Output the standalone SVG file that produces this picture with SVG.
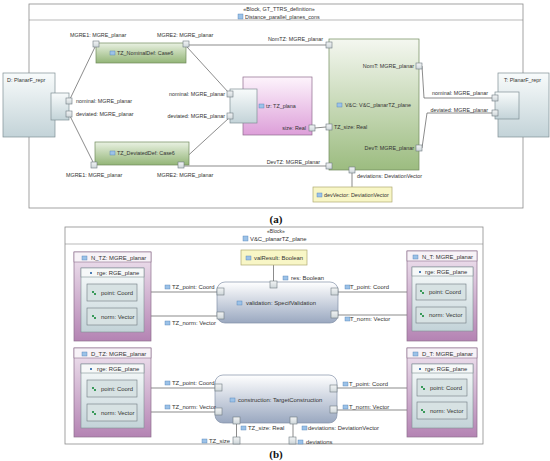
<svg xmlns="http://www.w3.org/2000/svg" width="550" height="461" viewBox="0 0 550 461">
<defs>
<linearGradient id="gGray" x1="0" y1="0" x2="0" y2="1"><stop offset="0" stop-color="#f8fbfb"/><stop offset="1" stop-color="#c3d3d8"/></linearGradient>
<linearGradient id="gGreen" x1="0" y1="0" x2="0" y2="1"><stop offset="0" stop-color="#e9f1e2"/><stop offset="1" stop-color="#93b577"/></linearGradient>
<linearGradient id="gVC" x1="0" y1="0" x2="0" y2="1"><stop offset="0" stop-color="#f4f7f0"/><stop offset="1" stop-color="#9cbc80"/></linearGradient>
<linearGradient id="gTz" x1="0" y1="0" x2="0" y2="1"><stop offset="0" stop-color="#fdf4fc"/><stop offset="1" stop-color="#dd9fd9"/></linearGradient>
<linearGradient id="gPur" x1="0" y1="0" x2="0" y2="1"><stop offset="0" stop-color="#efe4ef"/><stop offset="1" stop-color="#b483b3"/></linearGradient>
<linearGradient id="gOp" x1="0" y1="0" x2="0" y2="1"><stop offset="0" stop-color="#ffffff"/><stop offset="1" stop-color="#9aa8c0"/></linearGradient>
<linearGradient id="gPort" x1="0" y1="0" x2="0" y2="1"><stop offset="0" stop-color="#f2f4f5"/><stop offset="1" stop-color="#cfd7da"/></linearGradient>
</defs>
<style>
text{font-family:"Liberation Sans",Arial,sans-serif;fill:#333}
.a{font-size:5.4px}
.b{font-size:5.9px}
.mid{text-anchor:middle}
.end{text-anchor:end}
.frame{fill:#fff;stroke:#8c8c8c;stroke-width:0.8}
.gray{fill:url(#gGray);stroke:#7f8f94;stroke-width:0.7}
.green{fill:url(#gGreen);stroke:#6f8a5c;stroke-width:0.7}
.vc{fill:url(#gVC);stroke:#6f8a5c;stroke-width:0.7}
.tz{fill:url(#gTz);stroke:#8e6a8c;stroke-width:0.7}
.yel{fill:#f8f6c6;stroke:#b0aa70;stroke-width:0.7}
.port{fill:url(#gPort);stroke:#6e7a80;stroke-width:0.6}
.pur{fill:url(#gPur);stroke:#8d6f8d;stroke-width:0.7}
.hdr{fill:#f7f2f7;stroke:#8d6f8d;stroke-width:0.6}
.rge{fill:url(#gGray);stroke:#7f8f94;stroke-width:0.6}
.rgeh{fill:#f6f8f8;stroke:#7f8f94;stroke-width:0.6}
.prop{fill:#d7e2e3;stroke:#6e7a80;stroke-width:0.6}
.op{fill:url(#gOp);stroke:#8390a8;stroke-width:0.7}
.ic{fill:#9cc2e8;stroke:#4c7db5;stroke-width:0.4}
.gi{fill:#3a9a5a}
.conn line,.conn polyline{stroke:#5a5a5a;stroke-width:0.7;fill:none}
.lab{font-family:"Liberation Serif","Times New Roman",serif;font-weight:bold;font-size:11px;fill:#111}
</style>

<!-- ===== Part (a) ===== -->
<g id="frameA">
<rect class="frame" x="29" y="4" width="494" height="204"/>
<line x1="29" y1="20" x2="523" y2="20" stroke="#8c8c8c" stroke-width="0.6"/>
<text class="a mid" x="279" y="11">«Block, GT_TTRS_definition»</text>
<rect class="ic" x="238" y="14" width="5" height="5"/>
<text class="a" x="245" y="19">Distance_parallel_planes_cons</text>
</g>

<g class="conn" id="connA">
<line x1="95" y1="47" x2="70" y2="99"/>
<line x1="187" y1="47" x2="229" y2="93"/>
<line x1="189" y1="45" x2="326" y2="45"/>
<line x1="70" y1="116" x2="93" y2="162"/>
<line x1="229" y1="118" x2="181" y2="162"/>
<line x1="183" y1="166" x2="326" y2="166"/>
<line x1="315" y1="128" x2="326" y2="127"/>
<polyline points="422,66 424,98 492,98"/>
<polyline points="422,148 427,113 492,113"/>
<line x1="352" y1="173" x2="352" y2="187"/>
</g>

<g id="D">
<rect class="gray" x="3" y="73" width="52" height="64"/>
<text class="a" x="7" y="82">D: PlanarF_repr</text>
<rect class="gray" x="51" y="93" width="18" height="27"/>
<rect class="port" x="66" y="98" width="6" height="6"/>
<rect class="port" x="66" y="111" width="6" height="6"/>
<text class="a" x="76" y="103">nominal: MGRE_planar</text>
<text class="a" x="76" y="116">deviated: MGRE_planar</text>
</g>

<g id="T">
<rect class="gray" x="498" y="73" width="51" height="64"/>
<text class="a" x="504" y="82">T: PlanarF_repr</text>
<rect class="gray" x="495" y="92" width="24" height="27"/>
<rect class="port" x="492" y="95" width="6" height="6"/>
<rect class="port" x="492" y="110" width="6" height="6"/>
<text class="a end" x="488" y="95">nominal: MGRE_planar</text>
<text class="a end" x="488" y="112">deviated: MGRE_planar</text>
</g>

<g id="TZ_NominalDef">
<rect class="green" x="96" y="43" width="90" height="20"/>
<rect class="ic" x="110" y="51" width="5" height="4"/>
<text class="a" x="117" y="55">TZ_NominalDef: Case6</text>
<rect class="port" x="93" y="41" width="6" height="6"/>
<rect class="port" x="183" y="41" width="6" height="6"/>
<text class="a" x="70" y="37">MGRE1: MGRE_planar</text>
<text class="a" x="157" y="37">MGRE2: MGRE_planar</text>
</g>

<g id="TZ_DeviatedDef">
<rect class="green" x="95" y="142" width="94" height="23"/>
<rect class="ic" x="110" y="151" width="5" height="4"/>
<text class="a" x="117" y="155">TZ_DeviatedDef: Case6</text>
<rect class="port" x="91" y="162" width="6" height="6"/>
<rect class="port" x="178" y="162" width="6" height="6"/>
<text class="a" x="66" y="177">MGRE1: MGRE_planar</text>
<text class="a" x="157" y="177">MGRE2: MGRE_planar</text>
</g>

<g id="tz">
<rect class="tz" x="243" y="77" width="69" height="58"/>
<rect class="gray" x="230" y="89" width="27" height="34"/>
<rect class="port" x="227" y="91" width="6" height="6"/>
<rect class="port" x="227" y="113" width="6" height="6"/>
<text class="a end" x="225" y="96">nominal: MGRE_planar</text>
<text class="a end" x="225" y="118">deviated: MGRE_planar</text>
<rect class="ic" x="259" y="104" width="5" height="4"/>
<text class="a" x="266" y="108">tz: TZ_plana</text>
<rect class="port" x="309" y="125" width="6" height="6"/>
<text class="a end" x="306" y="130">size: Real</text>
</g>

<g id="VC">
<rect class="vc" x="329" y="39" width="90" height="131"/>
<rect class="ic" x="337" y="103" width="5" height="4"/>
<text class="a" x="345" y="107">V&amp;C: V&amp;C_planarTZ_plane</text>
<rect class="port" x="326" y="42" width="6" height="6"/>
<text class="a end" x="323" y="41">NomTZ: MGRE_planar</text>
<rect class="port" x="416" y="63" width="6" height="6"/>
<text class="a end" x="414" y="68">NomT: MGRE_planar</text>
<rect class="port" x="326" y="124" width="6" height="6"/>
<text class="a" x="334" y="129">TZ_size: Real</text>
<rect class="port" x="416" y="145" width="6" height="6"/>
<text class="a end" x="414" y="150">DevT: MGRE_planar</text>
<rect class="port" x="326" y="163" width="6" height="6"/>
<text class="a end" x="320" y="164">DevTZ: MGRE_planar</text>
<rect class="port" x="349" y="167" width="6" height="6"/>
<text class="a" x="357" y="178">deviations: DeviationVector</text>
</g>

<g id="devVector">
<rect class="yel" x="313" y="187" width="79" height="15"/>
<rect class="ic" x="317" y="193" width="5" height="4"/>
<text class="a" x="324" y="197">devVector: DeviationVector</text>
</g>

<text class="lab mid" x="276" y="223">(a)</text>

<!-- ===== Part (b) ===== -->
<g id="frameB">
<rect class="frame" x="65" y="227" width="418" height="217"/>
<line x1="65" y1="244" x2="483" y2="244" stroke="#8c8c8c" stroke-width="0.6"/>
<text class="b mid" x="276" y="233" style="font-size:5px">«Block»</text>
<rect class="ic" x="243" y="236" width="5" height="5"/>
<text class="b" x="250" y="241">V&amp;C_planarTZ_plane</text>
</g>

<g class="conn" id="connB">
<line x1="137" y1="292" x2="217" y2="292"/>
<line x1="137" y1="316" x2="217" y2="316"/>
<line x1="338" y1="292" x2="416" y2="292"/>
<line x1="338" y1="315" x2="416" y2="315"/>
<line x1="273.5" y1="265" x2="273.5" y2="281"/>
<line x1="137" y1="388" x2="215" y2="388"/>
<line x1="137" y1="412" x2="215" y2="412"/>
<line x1="337" y1="388" x2="417" y2="388"/>
<line x1="337" y1="410" x2="417" y2="410"/>
<line x1="236.5" y1="424" x2="236.5" y2="437"/>
<line x1="293" y1="424" x2="293" y2="437"/>
</g>

<g id="N_TZ">
<rect class="pur" x="74" y="252" width="77" height="89"/>
<rect class="hdr" x="74" y="252" width="77" height="10"/>
<rect class="ic" x="82" y="256" width="5" height="4"/>
<text class="b" x="91" y="260">N_TZ: MGRE_planar</text>
<rect class="rge" x="81" y="268" width="63" height="64"/>
<rect class="rgeh" x="81" y="268" width="63" height="9"/>
<rect x="90" y="272" width="2" height="2" fill="#4c7db5"/>
<text class="b" x="97" y="275">rge: RGE_plane</text>
<rect class="prop" x="87" y="284" width="50" height="17"/>
<path class="gi" d="M92 291h2v2h-2zM94 293h2v2h-2z"/>
<text class="b" x="101" y="295">point: Coord</text>
<rect class="prop" x="87" y="308" width="50" height="17"/>
<path class="gi" d="M92 315h2v2h-2zM94 317h2v2h-2z"/>
<text class="b" x="101" y="319">norm: Vector</text>
</g>

<g id="D_TZ">
<rect class="pur" x="74" y="348" width="77" height="89"/>
<rect class="hdr" x="74" y="348" width="77" height="10"/>
<rect class="ic" x="82" y="352" width="5" height="4"/>
<text class="b" x="91" y="356">D_TZ: MGRE_planar</text>
<rect class="rge" x="81" y="364" width="63" height="64"/>
<rect class="rgeh" x="81" y="364" width="63" height="9"/>
<rect x="90" y="368" width="2" height="2" fill="#4c7db5"/>
<text class="b" x="97" y="371">rge: RGE_plane</text>
<rect class="prop" x="87" y="380" width="50" height="17"/>
<path class="gi" d="M92 387h2v2h-2zM94 389h2v2h-2z"/>
<text class="b" x="101" y="391">point: Coord</text>
<rect class="prop" x="87" y="404" width="50" height="17"/>
<path class="gi" d="M92 411h2v2h-2zM94 413h2v2h-2z"/>
<text class="b" x="101" y="415">norm: Vector</text>
</g>

<g id="N_T">
<rect class="pur" x="407" y="251" width="70" height="90"/>
<rect class="hdr" x="407" y="251" width="70" height="10"/>
<rect class="ic" x="413" y="255" width="5" height="4"/>
<text class="b" x="422" y="259">N_T: MGRE_planar</text>
<rect class="rge" x="412" y="267" width="61" height="64"/>
<rect class="rgeh" x="412" y="267" width="61" height="9"/>
<rect x="419" y="271" width="2" height="2" fill="#4c7db5"/>
<text class="b" x="425" y="274">rge: RGE_plane</text>
<rect class="prop" x="416" y="284" width="50" height="16"/>
<path class="gi" d="M420 290h2v2h-2zM422 292h2v2h-2z"/>
<text class="b" x="429" y="294">point: Coord</text>
<rect class="prop" x="416" y="307" width="50" height="16"/>
<path class="gi" d="M420 313h2v2h-2zM422 315h2v2h-2z"/>
<text class="b" x="429" y="317">norm: Vector</text>
</g>

<g id="D_T">
<rect class="pur" x="407" y="348" width="70" height="89"/>
<rect class="hdr" x="407" y="348" width="70" height="10"/>
<rect class="ic" x="413" y="352" width="5" height="4"/>
<text class="b" x="422" y="356">D_T: MGRE_planar</text>
<rect class="rge" x="412" y="364" width="61" height="64"/>
<rect class="rgeh" x="412" y="364" width="61" height="9"/>
<rect x="419" y="368" width="2" height="2" fill="#4c7db5"/>
<text class="b" x="425" y="371">rge: RGE_plane</text>
<rect class="prop" x="417" y="379" width="50" height="17"/>
<path class="gi" d="M421 386h2v2h-2zM423 388h2v2h-2z"/>
<text class="b" x="430" y="390">point: Coord</text>
<rect class="prop" x="417" y="402" width="50" height="17"/>
<path class="gi" d="M421 409h2v2h-2zM423 411h2v2h-2z"/>
<text class="b" x="430" y="413">norm: Vector</text>
</g>

<g id="valResult">
<rect class="yel" x="241" y="250" width="66" height="15"/>
<rect class="ic" x="246" y="256" width="5" height="4"/>
<text class="b" x="254" y="260">valResult: Boolean</text>
</g>

<g id="validation">
<rect class="op" x="217" y="282" width="121" height="41" rx="8"/>
<rect class="ic" x="237" y="301" width="5" height="4"/>
<text class="b" x="246" y="305">validation: SpecifValidation</text>
<rect class="port" x="217" y="288" width="7" height="7"/>
<rect class="port" x="217" y="312" width="7" height="7"/>
<rect class="port" x="331" y="288" width="7" height="7"/>
<rect class="port" x="331" y="311" width="7" height="7"/>
<rect class="port" x="270" y="281" width="7" height="7"/>
<rect class="ic" x="165" y="285" width="5" height="4"/>
<text class="b" x="172" y="289">TZ_point: Coord</text>
<rect class="ic" x="165" y="321" width="5" height="4"/>
<text class="b" x="172" y="325">TZ_norm: Vector</text>
<rect class="ic" x="345" y="285" width="5" height="4"/>
<text class="b" x="350" y="289">T_point: Coord</text>
<rect class="ic" x="345" y="317" width="5" height="4"/>
<text class="b" x="350" y="321">T_norm: Vector</text>
<rect class="ic" x="283" y="276" width="5" height="4"/>
<text class="b" x="291" y="280">res: Boolean</text>
</g>

<g id="construction">
<rect class="op" x="215" y="375" width="122" height="48" rx="8"/>
<rect class="ic" x="230" y="398" width="5" height="4"/>
<text class="b" x="238" y="402">construction: TargetConstruction</text>
<rect class="port" x="215" y="384" width="7" height="7"/>
<rect class="port" x="215" y="408" width="7" height="7"/>
<rect class="port" x="330" y="385" width="7" height="7"/>
<rect class="port" x="330" y="406" width="7" height="7"/>
<rect class="port" x="233" y="417" width="7" height="7"/>
<rect class="port" x="290" y="417" width="7" height="7"/>
<rect class="ic" x="165" y="381" width="5" height="4"/>
<text class="b" x="172" y="385">TZ_point: Coord</text>
<rect class="ic" x="165" y="405" width="5" height="4"/>
<text class="b" x="172" y="409">TZ_norm: Vector</text>
<rect class="ic" x="343" y="382" width="5" height="4"/>
<text class="b" x="349" y="386">T_point: Coord</text>
<rect class="ic" x="343" y="405" width="5" height="4"/>
<text class="b" x="349" y="409">T_norm: Vector</text>
<rect class="ic" x="241" y="426" width="5" height="4"/>
<text class="b" x="248" y="430">TZ_size: Real</text>
<rect class="ic" x="302" y="426" width="5" height="4"/>
<text class="b" x="308" y="430">deviations: DeviationVector</text>
</g>

<g id="outerPorts">
<rect class="port" x="233" y="437" width="7" height="7"/>
<rect class="ic" x="202" y="439" width="5" height="4"/>
<text class="b" x="209" y="443">TZ_size</text>
<rect class="port" x="289" y="437" width="7" height="7"/>
<rect class="ic" x="298" y="440" width="5" height="4"/>
<text class="b" x="306" y="444">deviations</text>
</g>

<text class="lab mid" x="276" y="458">(b)</text>
</svg>
